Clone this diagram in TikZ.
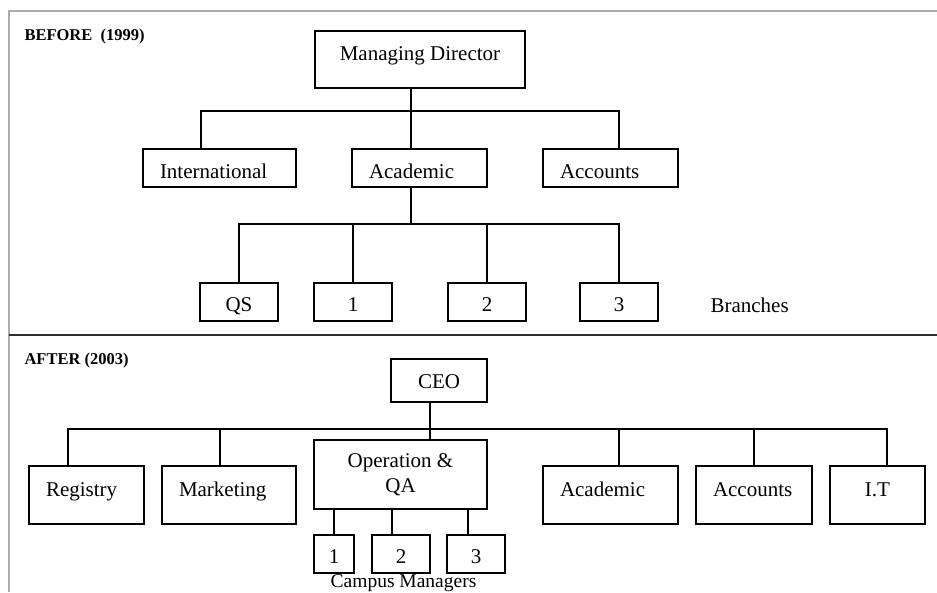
\documentclass[tikz,border=0pt]{standalone}
\usepackage{fontspec}
\setmainfont{Liberation Serif}
\tikzset{
  unit/.style={draw, rectangle, line width=1.5pt, inner xsep=17pt, inner ysep=0pt, align=left, font=\fontsize{21}{25}\selectfont},
  num/.style={draw, rectangle, line width=1.5pt, inner sep=0pt, font=\fontsize{21}{25}\selectfont},
  link/.style={line width=1.6pt},
  tag/.style={anchor=base west, font=\bfseries\fontsize{16.5}{19}\selectfont}
}
\begin{document}
\begin{tikzpicture}[x=1pt, y=-1pt]
\useasboundingbox (0,0) rectangle (937,592);
\draw[gray!65, line width=1.3pt] (9,592) -- (9,11) -- (937,11);
\draw[gray!35!black, line width=1.3pt] (9,335) -- (937,335);

% before
\node[tag] (before) at (21,40) {BEFORE\enspace(1999)};
\node[num, minimum width=210pt, text height=29pt, text depth=28pt] (md) at (420,59.5) {Managing Director};
\node[unit, text width=119pt, text height=29pt, text depth=9pt] (intl) at (219.5,168) {International};
\node[unit, text width=101pt, text height=29pt, text depth=9pt] (acad1) at (419.5,168) {Academic};
\node[unit, text width=101pt, text height=29pt, text depth=9pt] (acct1) at (610.5,168) {Accounts};
\node[num, minimum width=78pt, text height=28pt, text depth=10pt] (qs) at (239,302) {QS};
\node[num, minimum width=78pt, text height=28pt, text depth=10pt] (br1) at (353,302) {1};
\node[num, minimum width=78pt, text height=28pt, text depth=10pt] (br2) at (487,302) {2};
\node[num, minimum width=78pt, text height=28pt, text depth=10pt] (br3) at (619,302) {3};
\node[anchor=base west, font=\fontsize{21}{25}\selectfont] (branches) at (707,312) {Branches};

\coordinate (mdbus) at (411,111);
\coordinate (acadbus) at (411,224);
\draw[link] (mdbus) -- (mdbus |- md.south);
\draw[link] ([xshift=-18.5pt]intl.north) |- (mdbus) -| ([xshift=8.5pt]acct1.north);
\draw[link] (mdbus) -- (mdbus |- acad1.north);
\draw[link] (acadbus) -- (acadbus |- acad1.south);
\draw[link] (qs.north) |- (acadbus) -| (br3.north);
\draw[link] (br1.north) -- (br1.north |- acadbus);
\draw[link] (br2.north) -- (br2.north |- acadbus);

% after
\node[tag] (after) at (21,364) {AFTER (2003)};
\node[num, minimum width=96pt, text height=29pt, text depth=14pt] (ceo) at (439,380.5) {CEO};
\node[unit, text width=81pt, text height=30pt, text depth=28pt] (reg) at (86.5,495) {Registry};
\node[unit, text width=100pt, text height=30pt, text depth=28pt] (mkt) at (229,495) {Marketing};
\node[num, align=center, minimum width=173pt, minimum height=69pt] (ops) at (400.5,474.5) {Operation \&\\QA};
\node[unit, text width=101pt, text height=30pt, text depth=28pt] (acad2) at (610.5,495) {Academic};
\node[unit, text width=82pt, text height=30pt, text depth=28pt] (acct2) at (754,495) {Accounts};
\node[num, minimum width=95pt, text height=30pt, text depth=28pt] (it) at (877.5,495) {I.T};
\node[num, minimum width=40pt, text height=28pt, text depth=10pt] (cm1) at (334,554) {1};
\node[num, minimum width=58pt, text height=28pt, text depth=10pt] (cm2) at (401,554) {2};
\node[num, minimum width=58pt, text height=28pt, text depth=10pt] (cm3) at (476,554) {3};
\node[anchor=base, font=\fontsize{19.5}{23}\selectfont] (campus) at (403.5,587.5) {Campus Managers};

\coordinate (ceobus) at (430,429);
\draw[link] (ceobus |- ceo.south) -- (ceobus |- ops.north);
\draw[link] ([xshift=-18.5pt]reg.north) |- (ceobus) -| ([xshift=9.5pt]it.north);
\draw[link] ([xshift=-9pt]mkt.north) -- ([xshift=-9pt]mkt.north |- ceobus);
\draw[link] ([xshift=8.5pt]acad2.north) -- ([xshift=8.5pt]acad2.north |- ceobus);
\draw[link] (acct2.north) -- (acct2.north |- ceobus);
\draw[link] (cm1.north) -- (cm1.north |- ops.south);
\draw[link] ([xshift=-9pt]cm2.north) -- ([xshift=-9pt]cm2.north |- ops.south);
\draw[link] ([xshift=-8pt]cm3.north) -- ([xshift=-8pt]cm3.north |- ops.south);
\end{tikzpicture}
\end{document}
